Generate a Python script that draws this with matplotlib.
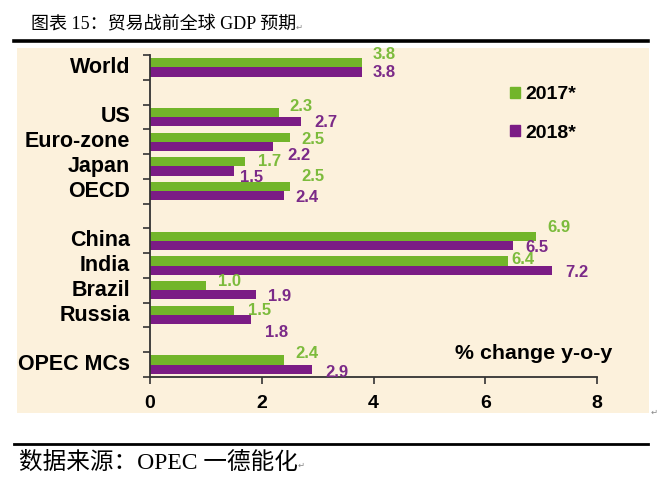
import matplotlib.pyplot as plt
from matplotlib.patches import Rectangle
from matplotlib.lines import Line2D

# data
categories = ["World", "", "US", "Euro-zone", "Japan", "OECD", "",
              "China", "India", "Brazil", "Russia", "", "OPEC MCs"]
gdp_2017 = [3.8, None, 2.3, 2.5, 1.7, 2.5, None, 6.9, 6.4, 1.0, 1.5, None, 2.4]
gdp_2018 = [3.8, None, 2.7, 2.2, 1.5, 2.4, None, 6.5, 7.2, 1.9, 1.8, None, 2.9]
series_labels = ["2017*", "2018*"]
x_ticks = [0, 2, 4, 6, 8]

# value-label nudges in pixels (right, down) from the bar end, as placed in the source
dx_2017 = [10, 0, 11, 12, 13, 12, 0, 12, 4, 12, 14, 0, 11]
dy_2017 = [-8, 0, -6, 2, 0, -10, 0, -9, -1, -4, 0, 0, -7]
dx_2018 = [10, 0, 14, 14, 6, 11, 0, 12, 13, 12, 14, 0, 13]
dy_2018 = [1, 0, 1, 9, 6, 2, 0, 2, 2, 2, 13, 0, 3]

GREEN = "#72b52a"
PURPLE = "#7b1c85"
GREEN_TXT = "#7cbb3c"
PURPLE_TXT = "#7b2a88"
BEIGE = "#fcf1dc"
W, H = 662, 483
PT = 0.72  # points per pixel at dpi 100

cjk = ["Liberation Serif", "Noto Sans CJK SC", "DejaVu Sans"]
plt.rcParams["font.family"] = ["Liberation Sans", "DejaVu Sans"]

fig = plt.figure(figsize=(W / 100, H / 100), dpi=100)
fig.patch.set_facecolor("white")

# beige panel behind the chart
fig.add_artist(Rectangle((17 / W, 1 - 413 / H), (649 - 17) / W, (413 - 48) / H,
                         transform=fig.transFigure, facecolor=BEIGE,
                         edgecolor="none", zorder=-10))
# rule lines
fig.add_artist(Line2D([14 / W, 648 / W], [1 - 41 / H, 1 - 41 / H],
                      color="black", lw=2.6, transform=fig.transFigure))
fig.add_artist(Line2D([14 / W, 648 / W], [1 - 443.5 / H, 1 - 443.5 / H],
                      color="black", lw=2.0, transform=fig.transFigure))

fig.text(31 / W, 1 - 25 / H, "图表 15：贸易战前全球 GDP 预期", family=cjk,
         fontsize=13, va="center", ha="left")
fig.text(296 / W, 1 - 28 / H, "↵", fontsize=6, color="#888888", va="center")
fig.text(19 / W, 1 - 463 / H, "数据来源：OPEC 一德能化", family=cjk,
         fontsize=17, va="center", ha="left")
fig.text(298 / W, 1 - 466 / H, "↵", fontsize=6, color="#888888", va="center")
fig.text(651 / W, 1 - 413 / H, "↵", fontsize=6, color="#888888", va="center")

ax = fig.add_axes([150 / W, 1 - 377 / H, (597 - 150) / W, (377 - 55) / H])
ax.set_facecolor("none")

n = len(categories)
bar_h = 0.37
off = 0.185
for i in range(n):
    if gdp_2017[i] is None:
        continue
    g, p = gdp_2017[i], gdp_2018[i]
    ax.barh(i - off, g, height=bar_h, color=GREEN, zorder=2)
    ax.barh(i + off, p, height=bar_h, color=PURPLE, zorder=2)
    ax.annotate(f"{g:.1f}", (g, i - off), xytext=(dx_2017[i] * PT, -dy_2017[i] * PT),
                textcoords="offset points", color=GREEN_TXT, fontsize=12,
                fontweight="bold", va="center", ha="left")
    ax.annotate(f"{p:.1f}", (p, i + off), xytext=(dx_2018[i] * PT, -dy_2018[i] * PT),
                textcoords="offset points", color=PURPLE_TXT, fontsize=12,
                fontweight="bold", va="center", ha="left")
    ax.text(-20 / 55.9, i, categories[i], ha="right", va="center",
            fontsize=15.5, fontweight="bold", transform=ax.transData)

ax.set_xlim(0, 8)
ax.set_ylim(n - 0.5, -0.5)
ax.set_xticks(x_ticks)
ax.set_xticklabels([str(t) for t in x_ticks], fontsize=14, fontweight="bold")
ax.set_yticks([k - 0.5 for k in range(n + 1)])
ax.set_yticklabels([])
ax.tick_params(axis="both", direction="out", length=5, width=1.2, color="#333333")
ax.tick_params(axis="x", pad=8)
for s in ["top", "right"]:
    ax.spines[s].set_visible(False)
for s in ["left", "bottom"]:
    ax.spines[s].set_color("#333333")
    ax.spines[s].set_linewidth(1.3)

handles = [Rectangle((0, 0), 1, 1, color=GREEN), Rectangle((0, 0), 1, 1, color=PURPLE)]
leg = ax.legend(handles, series_labels, loc="upper left", bbox_to_anchor=(0.766, 0.957),
                frameon=False, handlelength=0.5, handleheight=0.5, handletextpad=0.3,
                labelspacing=1.1, prop={"weight": "bold", "size": 14})

ax.text((612 - 150) / 447, 0.072, "% change y-o-y", transform=ax.transAxes,
        ha="right", va="center", fontsize=15.4, fontweight="bold")

fig.savefig("out.png", dpi=100)
